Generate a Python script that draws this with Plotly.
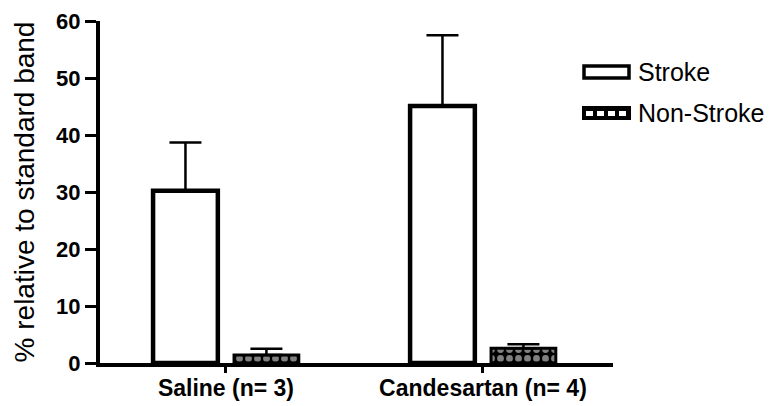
import plotly.graph_objects as go

categories = ["Saline (n= 3)", "Candesartan (n= 4)"]
stroke = [30.2, 45.1]
stroke_err = [8.5, 12.4]
nonstroke = [1.4, 2.6]
nonstroke_err = [1.1, 0.7]
yticks = [0, 10, 20, 30, 40, 50, 60]

FONT = "Liberation Sans, Arial, sans-serif"

fig = go.Figure()
fig.add_trace(go.Bar(
    name="Stroke", x=categories, y=stroke,
    marker=dict(color="white", line=dict(color="black", width=4.5)),
    error_y=dict(type="data", array=stroke_err, arrayminus=[0, 0], symmetric=False,
                 color="black", thickness=2.5, width=16),
    showlegend=False,
))
fig.add_trace(go.Bar(
    name="Non-Stroke", x=categories, y=nonstroke,
    marker=dict(color="black", line=dict(color="black", width=3),
                pattern=dict(shape=".", fgcolor="white", bgcolor="black", size=9, solidity=0.45)),
    error_y=dict(type="data", array=nonstroke_err, arrayminus=[0, 0], symmetric=False,
                 color="black", thickness=2.5, width=16),
    showlegend=False,
))

# custom legend (wide boxes like the original)
W = 513.0
H = 342.0
def px(x):
    return (x - 100) / W
def py(y):
    return (363 - y) / H

shapes = []
shapes.append(dict(type="rect", xref="paper", yref="paper",
                   x0=px(584), x1=px(629), y0=py(78), y1=py(66),
                   line=dict(color="black", width=3.5), fillcolor="white"))
shapes.append(dict(type="rect", xref="paper", yref="paper",
                   x0=px(582), x1=px(631), y0=py(120), y1=py(106),
                   line=dict(color="black", width=0), fillcolor="black"))
for i in range(4):
    x0 = 586 + i * 11
    shapes.append(dict(type="rect", xref="paper", yref="paper",
                       x0=px(x0), x1=px(x0 + 7), y0=py(116), y1=py(111),
                       line=dict(width=0), fillcolor="white"))

annotations = [
    dict(text="Stroke", xref="paper", yref="paper", x=px(636), y=py(72),
         xanchor="left", yanchor="middle", showarrow=False,
         font=dict(family=FONT, size=25, color="black")),
    dict(text="Non-Stroke", xref="paper", yref="paper", x=px(636), y=py(113),
         xanchor="left", yanchor="middle", showarrow=False,
         font=dict(family=FONT, size=25, color="black")),
]

fig.update_layout(
    width=778, height=406,
    margin=dict(l=100, r=165, t=21, b=43),
    paper_bgcolor="white", plot_bgcolor="white",
    barmode="group", bargap=0.37, bargroupgap=0.2,
    shapes=shapes, annotations=annotations,
    font=dict(family=FONT, color="black"),
)
fig.update_xaxes(
    range=[-0.49, 1.506], showline=True, linecolor="black", linewidth=3.5,
    ticks="outside", ticklen=6, tickwidth=2.5, tickcolor="black",
    tickfont=dict(family=FONT, size=23, color="black", weight="bold"),
    ticklabelstandoff=-4,
    showgrid=False, zeroline=False, automargin=False,
)
fig.update_yaxes(
    range=[0, 60], tickvals=yticks, showline=True, linecolor="black", linewidth=4,
    ticks="outside", ticklen=11, tickwidth=2.5, tickcolor="black",
    tickfont=dict(family=FONT, size=22, color="black", weight="bold"),
    showgrid=False, zeroline=False, automargin=False,
    title=dict(text="% relative to standard band", standoff=14,
               font=dict(family=FONT, size=28, color="black")),
)

fig.write_html("out.html")
